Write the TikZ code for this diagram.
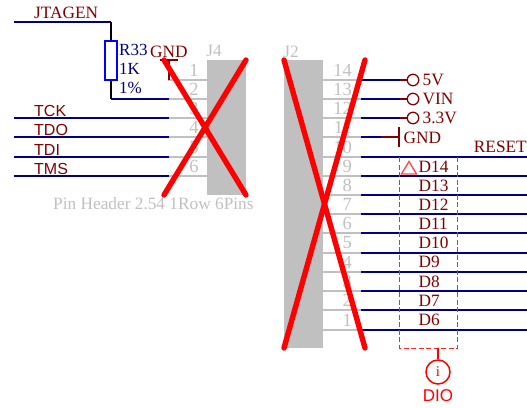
\documentclass[tikz,border=0pt]{standalone}
\usepackage{fontspec}
\setmainfont{Liberation Serif}
\setsansfont{Liberation Sans}
\definecolor{netblue}{RGB}{0,0,128}
\definecolor{darkred}{RGB}{128,0,0}
\definecolor{pingray}{RGB}{192,192,192}
\definecolor{partblue}{RGB}{0,0,255}
\tikzset{
  pinline/.style={pingray,line width=1.7pt},
  wire/.style={netblue,line width=1.8pt},
  pwr/.style={darkred,line width=1.6pt},
  pinnum/.style={text=pingray,font=\fontsize{18.5}{18.5}\selectfont,inner sep=0pt},
  redlab/.style={text=darkred,font=\fontsize{17.3}{17.3}\selectfont,inner sep=0pt,anchor=west},
  netsans/.style={text=darkred,font=\sffamily\fontsize{16}{16}\selectfont,inner sep=0pt,anchor=west},
  bluelab/.style={text=netblue,font=\fontsize{17}{17}\selectfont,inner sep=0pt,anchor=west},
  graylab/.style={text=pingray,font=\fontsize{17.3}{17.3}\selectfont,inner sep=0pt},
  cross/.style={red,line width=5.4pt,line cap=round},
  ring/.style={circle,draw=darkred,line width=1.3pt,minimum size=11.5pt,inner sep=0pt}
}
\begin{document}
\begin{tikzpicture}[x=1pt,y=-1pt]
\useasboundingbox (0,0) rectangle (527,407);
% J4
\fill[pingray] (207,60) rectangle (246,195);
\node[graylab] (j4) at (214,51) {J4};
\foreach \n/\y in {1/80,2/99,3/118,4/137,5/157,6/176}{
  \draw[pinline] (168,\y) -- (207,\y);
  \node[pinnum] at (194,\y-9.5) {\n};
}
\node[graylab,anchor=west] (ph) at (53,204) {Pin Header 2.54 1Row 6Pins};
% R33
\coordinate (jl) at (14,22);
\coordinate (jc) at (111,22);
\coordinate (rb) at (111,99);
\coordinate (re) at (169,99);
\node[draw=partblue,line width=1.6pt,minimum width=12pt,minimum height=39pt,inner sep=0pt] (r33) at (111,60.5) {};
\draw[wire] (jl) -- (jc);
\draw[black,line width=1.6pt] (jc) -- (r33.north);
\draw[black,line width=1.6pt] (r33.south) -- (rb);
\draw[wire] (rb) -- (re);
\node[redlab] at (34,12.5) {JTAGEN};
\node[bluelab] at (119,50) {R33};
\node[bluelab] at (119,69) {1K};
\node[bluelab] at (119,88) {1\%};
% GND J4
\node[redlab] at (150,52) {GND};
\coordinate (g1) at (169,80);
\coordinate (g2) at (169,60);
\draw[pwr] (g1) -- (g2);
\draw[pwr] (160,60) -- (178,60);
% J4 nets
\foreach \t/\y in {TCK/118,TDO/137,TDI/157,TMS/176}{
  \draw[wire] (14,\y) -- (169,\y);
  \node[netsans] at (34,\y-7.5) {\t};
}
% J2
\fill[pingray] (284,60) rectangle (323,348);
\node[graylab] (j2) at (291,52) {J2};
\foreach \n/\y in {14/80,13/99,12/118,11/137,10/157,9/176,8/195,7/214,6/233,5/253,4/272,3/291,2/310,1/330}{
  \draw[pinline] (323,\y) -- (362,\y);
  \node[pinnum,anchor=east] at (352,\y-10) {\n};
}
% power
\foreach \t/\y/\k in {5V/80/a,VIN/99/b,3.3V/118/c}{
  \node[ring] (\k) at (413,\y) {};
  \draw[wire] (361,\y) -- (400,\y);
  \draw[pwr] (400,\y) -- (\k.west);
  \node[redlab] at (422.5,\y) {\t};
}
\draw[wire] (361,137) -- (381,137);
\draw[pwr] (381,137) -- (399,137);
\draw[pwr] (399,127) -- (399,147);
\node[redlab] at (403.5,137.5) {GND};
% signals
\foreach \y in {157,176,195,214,233,253,272,291,310,330}{
  \draw[wire] (361,\y) -- (527,\y);
}
\node[redlab,anchor=east] at (527,147) {RESET};
\foreach \t/\y in {D14/166.5,D13/185.5,D12/205,D11/224,D10/243,D9/262,D8/281.5,D7/300.5,D6/319.5}{
  \node[redlab] at (418.5,\y) {\t};
}
% DIO group
\draw[red!85,dash pattern=on 5pt off 2.5pt,line width=1pt] (399.5,157) -- (399.5,348) -- (457.5,348) -- (457.5,157);
\draw[red!70,line width=1.4pt] (401.5,174) -- (416.5,174) -- (409,161.5) -- cycle;
\node[circle,draw=red,line width=1.5pt,minimum size=24pt,inner sep=0pt,text=red,font=\fontsize{15}{15}\selectfont] (dio) at (438,372) {i};
\coordinate (dt) at (438,348);
\draw[red,line width=1.5pt] (dt) -- (dio.north);
\node[text=red,font=\sffamily\fontsize{17}{17}\selectfont,inner sep=0pt] at (438,396) {DIO};
% crosses
\draw[cross] (164,60) -- (246,195);
\draw[cross] (246,60) -- (164,195);
\draw[cross] (284,60) -- (365,348);
\draw[cross] (365,60) -- (284,348);
\end{tikzpicture}
\end{document}
